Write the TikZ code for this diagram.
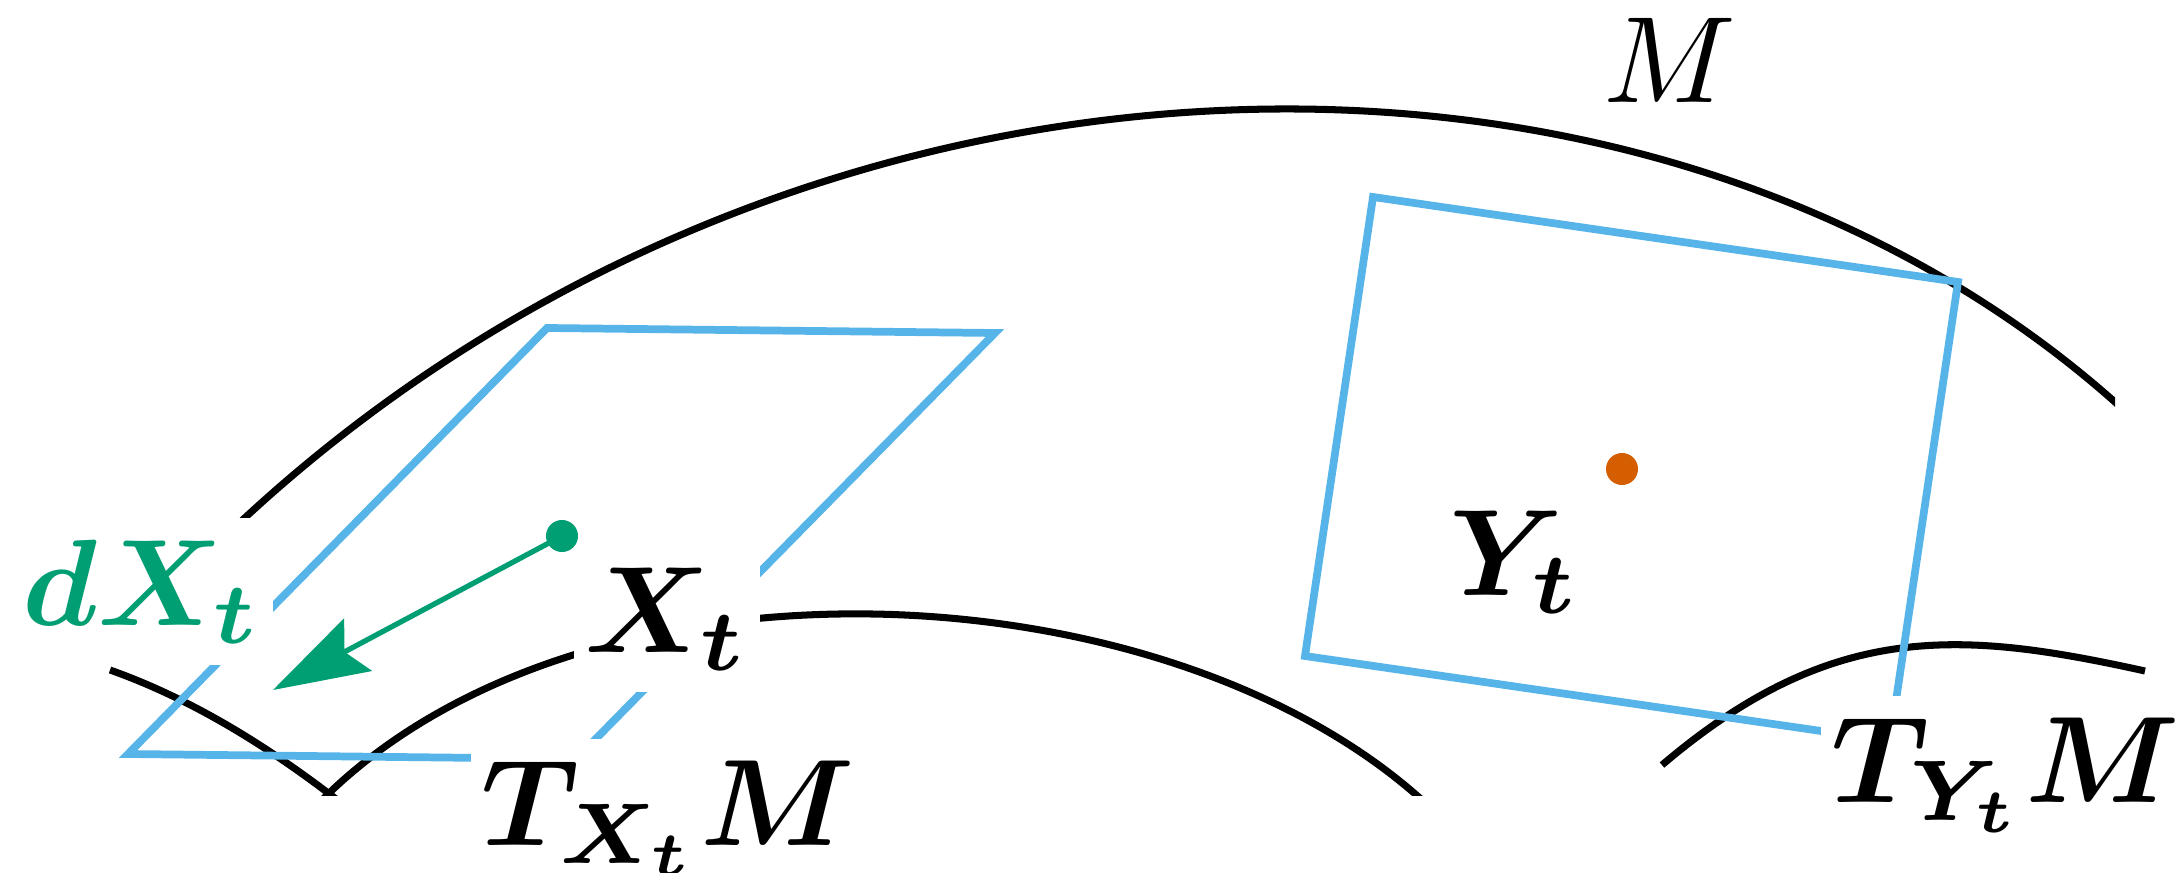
\documentclass[tikz,border=0pt]{standalone}
\usepackage{graphicx}
\usepackage{bm}
\usetikzlibrary{arrows.meta}
\definecolor{skyb}{HTML}{56B4E9}
\definecolor{bgreen}{HTML}{009E73}
\definecolor{verm}{HTML}{D55E00}
\newcommand{\bigmath}[1]{\scalebox{3.5}{$#1$}}
\begin{document}
\begin{tikzpicture}[x=0.01cm,y=-0.01cm,
  manifold/.style={line width=2pt, black},
  plane/.style={line width=2.2pt, skyb, line join=miter},
  lbl/.style={fill=white, inner xsep=3pt, inner ysep=6pt},
  pt/.style={circle, inner sep=0pt, minimum size=0.32cm}
]
\useasboundingbox (0,0) rectangle (2181,873);

% manifold curves
\begin{scope}
\clip (0,0) rectangle (2115,873);
\draw[manifold] (205,556) .. controls (765,0) and (1660,-30) .. (2140,425);
\end{scope}
\begin{scope}
\clip (0,0) rectangle (2181,795);
\draw[manifold] (110,670) .. controls (195,700) and (275,751) .. (345,806);
\draw[manifold] (322,800) .. controls (583,539) and (1161,565) .. (1422,800);
\end{scope}
\draw[manifold] (1662,765) .. controls (1832,620.5) and (1960,630.2) .. (2145,671);

% tangent planes
\coordinate (A1) at (547,328);
\coordinate (A2) at (995,333);
\coordinate (A3) at (576,759);
\coordinate (A4) at (128,754);
\draw[plane] (A1) -- (A2) -- (A3) -- (A4) -- cycle;
\coordinate (B1) at (1373,197);
\coordinate (B2) at (1958,282);
\coordinate (B3) at (1890,741);
\coordinate (B4) at (1305,656);
\draw[plane] (B1) -- (B2) -- (B3) -- (B4) -- cycle;

% points and vector
\node[pt, fill=bgreen] (xt) at (562,536) {};
\coordinate (dxend) at (273,690);
\draw[bgreen, line width=1.5pt, -{Stealth[length=0.96cm,width=0.59cm,inset=0.15cm]}] (xt.center) -- (dxend);
\node[pt, fill=verm] (yt) at (1622,469) {};

% labels
\node[lbl, anchor=base west] (lxt) at (573,652) {\bigmath{\bm{X_t}}};
\node[lbl, anchor=base west, text=bgreen] (ldx) at (11,625) {\bigmath{\bm{dX_t}}};
\node[lbl, anchor=base west] (lyt) at (1438,595) {\bigmath{\bm{Y_t}}};
\node[lbl, anchor=base west] (lm) at (1592,103) {\bigmath{M}};
\node[lbl, anchor=base west] (ltx) at (470,845) {\bigmath{\bm{T_{X_t}M}}};
\node[lbl, anchor=base west] (lty) at (1820,802) {\bigmath{\bm{T_{Y_t}M}}};
\end{tikzpicture}
\end{document}
